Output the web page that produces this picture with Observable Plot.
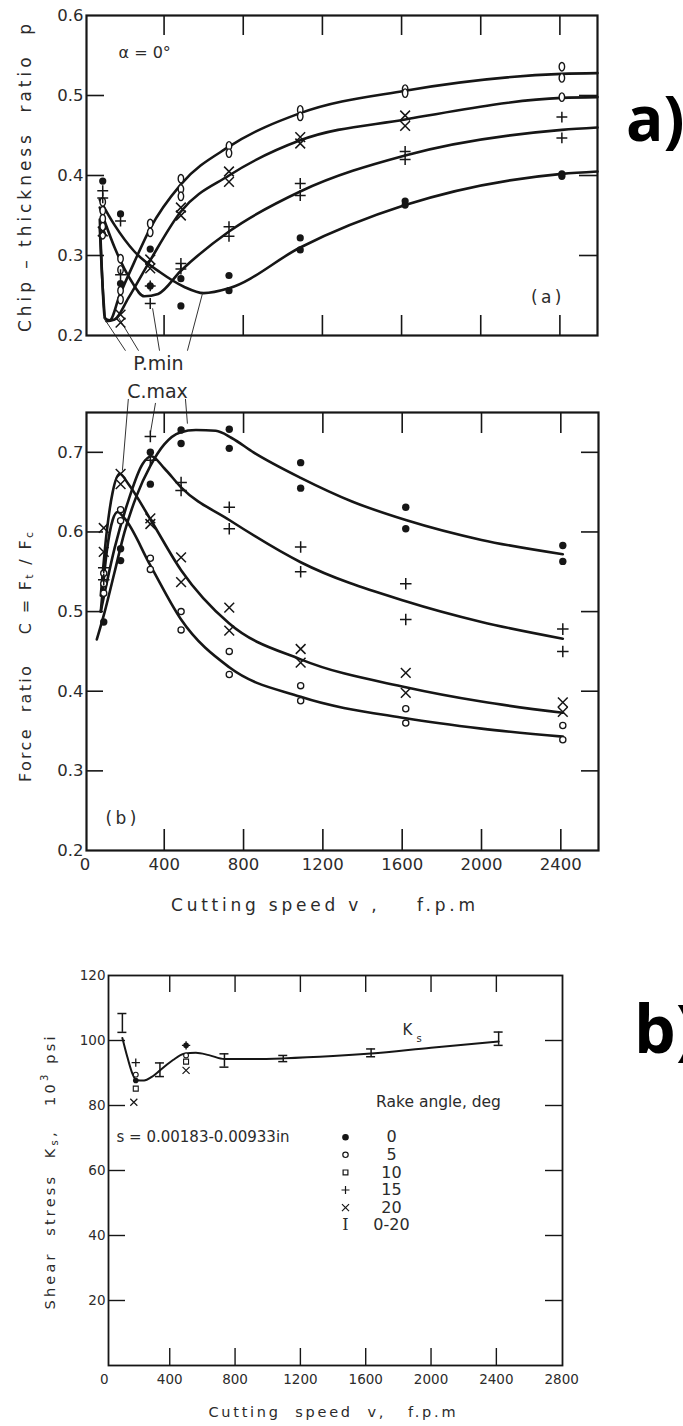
<!DOCTYPE html>
<html><head><meta charset="utf-8">
<script src="https://cdn.jsdelivr.net/npm/d3@7"></script>
<script src="https://cdn.jsdelivr.net/npm/@observablehq/plot@0.6"></script>
<style>
html,body{margin:0;padding:0;background:#fff;}
#page{position:relative;width:683px;height:1426px;overflow:hidden;background:#fff;}
.panel{position:absolute;left:0;}
#overlay{position:absolute;left:0;top:0;pointer-events:none;}
</style></head><body><div id="page"></div>
<script>
// ---------- tick values ----------
const fpmTickLabels = [0, 400, 800, 1200, 1600, 2000, 2400];
const fpmInnerTicks = [400, 800, 1200, 1600, 2000, 2400];
const chipTicks = [0.2, 0.3, 0.4, 0.5, 0.6];
const chipInnerTicks = [0.3, 0.4, 0.5];
const forceTicks = [0.2, 0.3, 0.4, 0.5, 0.6, 0.7];
const forceInnerTicks = [0.3, 0.4, 0.5, 0.6, 0.7];
const shearXTicks = [0, 400, 800, 1200, 1600, 2000, 2400, 2800];
const shearInnerX = [400, 800, 1200, 1600, 2000, 2400];
const shearYTicks = [20, 40, 60, 80, 100, 120];
const shearInnerY = [20, 40, 60, 80, 100];

// ---------- (a) chip-thickness ratio p : measured points [v fpm, p] ----------
const chipFilled = [[90,0.393],[180,0.352],[180,0.265],[330,0.308],[330,0.262],[485,0.271],[485,0.237],[728,0.275],[728,0.256],[1088,0.322],[1088,0.307],[1618,0.368],[1618,0.363],[2410,0.402],[2410,0.399]];
const chipPlus = [[90,0.381],[90,0.372],[180,0.343],[180,0.276],[330,0.262],[330,0.24],[485,0.29],[485,0.283],[728,0.336],[728,0.324],[1088,0.39],[1088,0.375],[1618,0.43],[1618,0.42],[2410,0.473],[2410,0.447]];
const chipCross = [[90,0.33],[180,0.226],[180,0.216],[330,0.295],[330,0.284],[485,0.36],[485,0.35],[728,0.405],[728,0.392],[1088,0.448],[1088,0.44],[1618,0.475],[1618,0.462]];
const chipOpen = [[90,0.367],[90,0.356],[90,0.346],[90,0.336],[90,0.326],[180,0.296],[180,0.282],[180,0.256],[180,0.245],[330,0.34],[330,0.329],[485,0.396],[485,0.383],[485,0.374],[728,0.437],[728,0.428],[1088,0.482],[1088,0.474],[1618,0.508],[1618,0.503],[2410,0.536],[2410,0.522],[2410,0.498]];
// fitted curves
const chipFitOpen = [[75,0.345],[86,0.28],[100,0.222],[125,0.219],[175,0.25],[250,0.292],[330,0.334],[485,0.389],[728,0.436],[1088,0.478],[1618,0.506],[2410,0.527],[2590,0.528]];
const chipFitCross = [[75,0.335],[90,0.26],[108,0.218],[150,0.22],[220,0.247],[330,0.294],[485,0.355],[728,0.4],[1088,0.444],[1618,0.47],[2410,0.497],[2590,0.498]];
const chipFitPlus = [[75,0.36],[150,0.31],[230,0.27],[300,0.249],[370,0.252],[485,0.281],[728,0.33],[1088,0.38],[1618,0.425],[2410,0.457],[2590,0.46]];
const chipFitFilled = [[75,0.37],[150,0.338],[250,0.305],[380,0.279],[500,0.261],[600,0.253],[728,0.259],[1088,0.31],[1618,0.363],[2410,0.402],[2590,0.405]];
// P.min leader lines [x1, y1, x2, y2]
const pMinLeaders = [[205,0.181,94,0.2225],[271,0.181,170,0.2225],[377,0.181,342,0.234],[518,0.181,594,0.2525]];
const pMinLabel = [{text: "P.min", x: 371, y: 0.165}];

// ---------- (b) force ratio C : measured points ----------
const forceFilled = [[95,0.487],[180,0.579],[180,0.564],[330,0.70],[330,0.66],[485,0.728],[485,0.711],[728,0.729],[728,0.705],[1088,0.687],[1088,0.655],[1618,0.631],[1618,0.604],[2410,0.583],[2410,0.563]];
const forcePlus = [[95,0.555],[95,0.54],[330,0.72],[330,0.69],[485,0.662],[485,0.652],[728,0.631],[728,0.604],[1088,0.581],[1088,0.55],[1618,0.535],[1618,0.49],[2410,0.478],[2410,0.45]];
const forceCross = [[95,0.605],[95,0.575],[180,0.673],[180,0.66],[330,0.617],[330,0.61],[485,0.568],[485,0.537],[728,0.505],[728,0.476],[1088,0.453],[1088,0.436],[1618,0.423],[1618,0.398],[2410,0.386],[2410,0.374]];
const forceOpen = [[95,0.548],[95,0.535],[95,0.523],[180,0.628],[180,0.614],[330,0.567],[330,0.553],[485,0.5],[485,0.477],[728,0.45],[728,0.421],[1088,0.407],[1088,0.388],[1618,0.378],[1618,0.36],[2410,0.357],[2410,0.339]];
const forceFitFilled = [[60,0.465],[100,0.5],[150,0.55],[200,0.6],[260,0.645],[330,0.683],[400,0.71],[480,0.725],[560,0.728],[660,0.727],[740,0.718],[850,0.7],[1088,0.668],[1350,0.638],[1618,0.615],[2000,0.59],[2410,0.572]];
const forceFitPlus = [[80,0.5],[150,0.58],[220,0.64],[290,0.685],[335,0.695],[400,0.68],[485,0.656],[728,0.615],[1088,0.562],[1618,0.513],[2000,0.487],[2410,0.466]];
const forceFitCross = [[80,0.52],[110,0.6],[140,0.65],[175,0.673],[220,0.66],[330,0.616],[485,0.552],[728,0.485],[1088,0.44],[1618,0.405],[2000,0.387],[2410,0.373]];
const forceFitOpen = [[80,0.5],[110,0.575],[140,0.615],[165,0.625],[200,0.617],[330,0.558],[485,0.49],[728,0.43],[1088,0.393],[1618,0.366],[2000,0.353],[2410,0.343]];
const cMaxLeaders = [[219,0.767,189,0.677],[356,0.762,330,0.724],[507,0.767,517,0.736]];
const cMaxLabel = [{text: "C.max", x: 366, y: 0.776}];

// ---------- shear stress Ks (10^3 psi) ----------
const ksFilled = [[192,87.7],[500,98.5]];
const ksOpen = [[192,89.5],[500,95.4]];
const ksSquare = [[192,85.2],[500,93.5]];
const ksPlus = [[192,93.2],[500,98.5]];
const ksCross = [[180,81],[500,90.8]];
const ksBars = [[110,102.5,108.3],[340,88.9,93.1],[735,91.8,95.9],[1095,93.5,95.4],[1633,95.0,97.4],[2414,98.5,102.6]];
const ksFit = [[110,100.8],[140,95],[170,90],[195,87.8],[243,87.7],[290,88.8],[340,90.8],[420,94],[488,95.9],[560,96.2],[640,95.5],[735,94.3],[900,94.3],[1095,94.5],[1400,95.2],[1633,96.0],[2000,97.8],[2414,99.7]];
const legendSymbols = ["filled", "open", "square", "plus", "times", "bar"];
const legendLabels = ["0", "5", "10", "15", "20", "0-20"];

// ---------- helpers ----------
const FONT = "DejaVu Sans, sans-serif";
const INK = "#161616";
const TXT = "#2b2b2b";
const pts = (arr) => arr.map(([x, y]) => ({x, y}));
const fits = (obj) => Object.entries(obj).flatMap(([k, arr]) => arr.map(([x, y]) => ({x, y, k})));
const links = (arr) => arr.map(([x1, y1, x2, y2]) => ({x1, y1, x2, y2}));
// tall oval marker (as drawn in the original figure)
const oval = {draw(ctx, size) {
  const r = Math.sqrt(size / Math.PI), rx = r * 0.8, ry = r * 1.25, k = 0.5523;
  ctx.moveTo(rx, 0);
  ctx.bezierCurveTo(rx, ry * k, rx * k, ry, 0, ry);
  ctx.bezierCurveTo(-rx * k, ry, -rx, ry * k, -rx, 0);
  ctx.bezierCurveTo(-rx, -ry * k, -rx * k, -ry, 0, -ry);
  ctx.bezierCurveTo(rx * k, -ry, rx, -ry * k, rx, 0);
  ctx.closePath();
}};

function innerTicks(xt, yt, fw, fh, lenX, lenY, sw) {
  return [
    Plot.ruleX(xt, {x: d => d, insetTop: fh - lenX, stroke: INK, strokeWidth: sw}),
    Plot.ruleX(xt, {x: d => d, insetBottom: fh - lenX, stroke: INK, strokeWidth: sw}),
    Plot.ruleY(yt, {y: d => d, insetRight: fw - lenY, stroke: INK, strokeWidth: sw}),
    Plot.ruleY(yt, {y: d => d, insetLeft: fw - lenY, stroke: INK, strokeWidth: sw})
  ];
}
const page = document.getElementById("page");
function place(svg, top) {
  const d = document.createElement("div");
  d.className = "panel"; d.style.top = top + "px";
  d.appendChild(svg); page.appendChild(d);
}
const baseStyle = (fs) => ({fontFamily: FONT, fontSize: fs + "px", color: TXT, background: "none", overflow: "visible"});

// ---------- panel (a) ----------
{
  const ml = 86, mr = 86, mt = 15, mb = 45, H = 380;
  const fw = 683 - ml - mr, fh = H - mt - mb;
  const svg = Plot.plot({
    width: 683, height: H, marginLeft: ml, marginRight: mr, marginTop: mt, marginBottom: mb,
    style: baseStyle(16.5),
    x: {domain: [8, 2590], axis: null},
    y: {domain: [0.2, 0.6], ticks: chipTicks, tickSize: 0, tickPadding: 3, tickFormat: d3.format(".1f"), label: null},
    marks: [
      ...innerTicks(fpmInnerTicks, chipInnerTicks, fw, fh, 20, 18, 1.6),
      Plot.line(fits({o: chipFitOpen, x: chipFitCross, p: chipFitPlus, f: chipFitFilled}), {x: "x", y: "y", z: "k", curve: "monotone-x", stroke: INK, strokeWidth: 2.6}),
      Plot.link(links(pMinLeaders), {x1: "x1", y1: "y1", x2: "x2", y2: "y2", stroke: "#333", strokeWidth: 1}),
      Plot.dot(pts(chipOpen), {x: "x", y: "y", symbol: oval, r: 3.4, fill: "white", stroke: INK, strokeWidth: 1.4}),
      Plot.dot(pts(chipFilled), {x: "x", y: "y", symbol: "circle", r: 3.6, fill: INK}),
      Plot.dot(pts(chipPlus), {x: "x", y: "y", symbol: "plus", r: 3.6, stroke: INK, strokeWidth: 1.5}),
      Plot.dot(pts(chipCross), {x: "x", y: "y", symbol: "times", r: 4.5, stroke: INK, strokeWidth: 1.5}),
      Plot.text(pMinLabel, {x: "x", y: "y", text: "text", fontSize: 19, fill: TXT}),
      Plot.text(["α = 0°"], {frameAnchor: "top-left", dx: 32, dy: 37, textAnchor: "start", lineAnchor: "middle", fontSize: 16, fill: TXT}),
      Plot.text(["(\u2009a\u2009)"], {frameAnchor: "bottom-right", dx: -36, dy: -38, textAnchor: "end", lineAnchor: "middle", fontSize: 17, fill: TXT}),
      Plot.frame({stroke: INK, strokeWidth: 2.2})
    ]
  });
  place(svg, 0);
}

// ---------- panel (b) ----------
{
  const ml = 86, mr = 85, mt = 42, mb = 80, H = 560;
  const fw = 683 - ml - mr, fh = H - mt - mb;
  const svg = Plot.plot({
    width: 683, height: H, marginLeft: ml, marginRight: mr, marginTop: mt, marginBottom: mb,
    style: baseStyle(16.5),
    x: {domain: [8, 2590], ticks: fpmTickLabels, tickSize: 0, tickPadding: 8, tickFormat: d3.format("d"), label: null},
    y: {domain: [0.2, 0.75], ticks: forceTicks, tickSize: 0, tickPadding: 3, tickFormat: d3.format(".1f"), label: null},
    marks: [
      ...innerTicks(fpmInnerTicks, forceInnerTicks, fw, fh, 21, 17, 1.6),
      Plot.line(fits({f: forceFitFilled, p: forceFitPlus, x: forceFitCross, o: forceFitOpen}), {x: "x", y: "y", z: "k", curve: "monotone-x", stroke: INK, strokeWidth: 2.6}),
      Plot.link(links(cMaxLeaders), {x1: "x1", y1: "y1", x2: "x2", y2: "y2", stroke: "#333", strokeWidth: 1}),
      Plot.dot(pts(forceOpen), {x: "x", y: "y", symbol: "circle", r: 3.1, fill: "white", stroke: INK, strokeWidth: 1.3}),
      Plot.dot(pts(forceFilled), {x: "x", y: "y", symbol: "circle", r: 3.7, fill: INK}),
      Plot.dot(pts(forcePlus), {x: "x", y: "y", symbol: "plus", r: 3.8, stroke: INK, strokeWidth: 1.5}),
      Plot.dot(pts(forceCross), {x: "x", y: "y", symbol: "times", r: 4.5, stroke: INK, strokeWidth: 1.5}),
      Plot.text(cMaxLabel, {x: "x", y: "y", text: "text", fontSize: 19, fill: TXT}),
      Plot.text(["(\u2009b\u2009)"], {frameAnchor: "bottom-left", dx: 19, dy: -32, textAnchor: "start", lineAnchor: "middle", fontSize: 17, fill: TXT}),
      Plot.frame({stroke: INK, strokeWidth: 2.2})
    ]
  });
  place(svg, 370);
}

// ---------- panel (shear stress) ----------
{
  const ml = 108, mr = 121, mt = 25, mb = 61, H = 476;
  const fw = 683 - ml - mr, fh = H - mt - mb;
  const sym = {filled: "circle", open: "circle", square: "square", plus: "plus", times: "times"};
  const legendRows = legendLabels.map((label, i) => ({label, s: legendSymbols[i], i}));
  const rowDy = (i) => 161.7 + i * 17.6;
  const legendMarks = legendRows.flatMap(row => [
    row.s === "bar"
      ? Plot.text([row], {frameAnchor: "top-left", dx: 237, dy: rowDy(row.i), text: () => "I", textAnchor: "middle", lineAnchor: "middle", fontSize: 16, fontFamily: "DejaVu Serif, serif", fill: TXT})
      : Plot.dot([row], {frameAnchor: "top-left", dx: 237, dy: rowDy(row.i), symbol: sym[row.s],
          r: row.s === "times" ? 3.3 : 2.7,
          fill: row.s === "filled" ? INK : (row.s === "plus" || row.s === "times") ? "none" : "white",
          stroke: INK, strokeWidth: 1.2}),
    Plot.text([row], {frameAnchor: "top-left", dx: 283, dy: rowDy(row.i), text: "label", textAnchor: "middle", lineAnchor: "middle", fontSize: 16, fill: TXT})
  ]);
  const svg = Plot.plot({
    width: 683, height: H, marginLeft: ml, marginRight: mr, marginTop: mt, marginBottom: mb,
    style: baseStyle(13.5),
    x: {domain: [25, 2805], ticks: shearXTicks, tickSize: 0, tickPadding: 9, tickFormat: d3.format("d"), label: null},
    y: {domain: [0, 120], ticks: shearYTicks, tickSize: 0, tickPadding: 3, tickFormat: d3.format("d"), label: null},
    marks: [
      ...innerTicks(shearInnerX, shearInnerY, fw, fh, 17, 17, 1.4),
      Plot.line(pts(ksFit), {x: "x", y: "y", curve: "monotone-x", stroke: INK, strokeWidth: 2}),
      Plot.ruleX(ksBars, {x: d => d[0], y1: d => d[1], y2: d => d[2], stroke: INK, strokeWidth: 1.5}),
      Plot.ruleY(ksBars, {y: d => d[1], x1: d => d[0], x2: d => d[0], insetLeft: -4.5, insetRight: -4.5, stroke: INK, strokeWidth: 1.5}),
      Plot.ruleY(ksBars, {y: d => d[2], x1: d => d[0], x2: d => d[0], insetLeft: -4.5, insetRight: -4.5, stroke: INK, strokeWidth: 1.5}),
      Plot.dot(pts(ksOpen), {x: "x", y: "y", symbol: "circle", r: 2.4, fill: "white", stroke: INK, strokeWidth: 1.1}),
      Plot.dot(pts(ksSquare), {x: "x", y: "y", symbol: "square", r: 2.8, fill: "white", stroke: INK, strokeWidth: 1.1}),
      Plot.dot(pts(ksFilled), {x: "x", y: "y", symbol: "circle", r: 2.8, fill: INK}),
      Plot.dot(pts(ksPlus), {x: "x", y: "y", symbol: "plus", r: 2.8, stroke: INK, strokeWidth: 1.3}),
      Plot.dot(pts(ksCross), {x: "x", y: "y", symbol: "times", r: 3.3, stroke: INK, strokeWidth: 1.2}),
      // annotations
      Plot.text(["K"], {frameAnchor: "top-left", dx: 294, dy: 55, textAnchor: "start", lineAnchor: "middle", fontSize: 15, fill: TXT}),
      Plot.text(["s"], {frameAnchor: "top-left", dx: 308, dy: 63, textAnchor: "start", lineAnchor: "middle", fontSize: 10, fill: TXT}),
      Plot.text(["Rake angle, deg"], {frameAnchor: "top-left", dx: 330, dy: 127, textAnchor: "middle", lineAnchor: "middle", fontSize: 15.5, fill: TXT}),
      Plot.text(["s = 0.00183-0.00933in"], {frameAnchor: "top-left", dx: 8, dy: 162, textAnchor: "start", lineAnchor: "middle", fontSize: 15, fill: TXT}),
      ...legendMarks,
      Plot.frame({stroke: INK, strokeWidth: 1.8})
    ]
  });
  place(svg, 950);
}

// ---------- overlay titles ----------
const NS = "http://www.w3.org/2000/svg";
const ov = document.createElementNS(NS, "svg");
ov.setAttribute("id", "overlay"); ov.setAttribute("width", 683); ov.setAttribute("height", 1426);
ov.setAttribute("font-family", FONT); ov.setAttribute("fill", TXT);
ov.innerHTML = `
<text transform="translate(25,178) rotate(-90)" text-anchor="middle" dominant-baseline="central" font-size="17" textLength="308" lengthAdjust="spacing" style="white-space:pre">Chip – thickness  ratio  p</text>
<text transform="translate(25,657) rotate(-90)" text-anchor="middle" dominant-baseline="central" font-size="16" textLength="250" lengthAdjust="spacing" style="white-space:pre">Force  ratio    C = F<tspan font-size="11" dy="4">t</tspan><tspan dy="-4"> / F</tspan><tspan font-size="11" dy="4">c</tspan></text>
<text transform="translate(50,1173) rotate(-90)" text-anchor="middle" dominant-baseline="central" font-size="14.5" textLength="273" lengthAdjust="spacing" style="white-space:pre">Shear  stress  K<tspan font-size="10" dy="4">s</tspan><tspan dy="-4">,   10</tspan><tspan font-size="10" dy="-6">3</tspan><tspan dy="6"> psi</tspan></text>
<text x="323" y="905" text-anchor="middle" dominant-baseline="central" font-size="17" textLength="304" lengthAdjust="spacing" style="white-space:pre">Cutting speed v ,    f.p.m</text>
<text x="332" y="1412" text-anchor="middle" dominant-baseline="central" font-size="14.5" textLength="247" lengthAdjust="spacing" style="white-space:pre">Cutting  speed  v,   f.p.m</text>
<text x="626" y="141" font-family="Open Sans, sans-serif" font-weight="700" font-size="62" fill="#000">a)</text>
<text x="634" y="1053" font-family="Open Sans, sans-serif" font-weight="700" font-size="66" fill="#000">b)</text>
`;
page.appendChild(ov);
</script></body></html>
